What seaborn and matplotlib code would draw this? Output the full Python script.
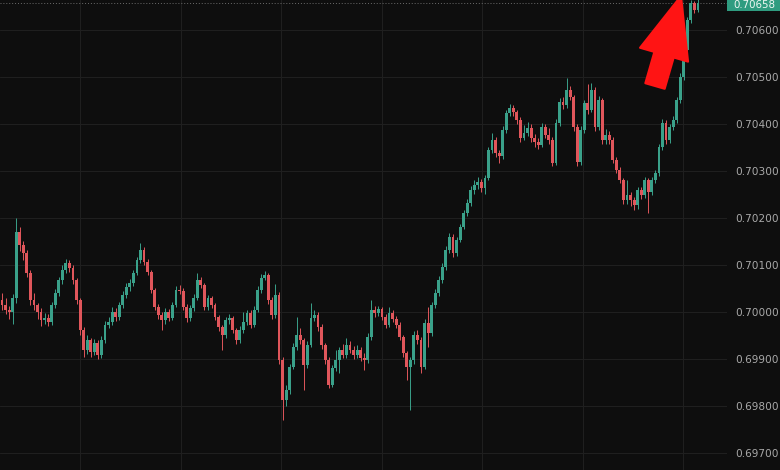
# AUD/NZD style intraday candles, dark theme
import numpy as np
import matplotlib
matplotlib.use('Agg')
import matplotlib.pyplot as plt
import matplotlib.patches as mpatches
import seaborn as sns

# ---- data ----
first_open = 0.70026

closes = [
    # first swing
    0.70015, 0.70004, 0.70000, 0.70030, 0.70170, 0.70143, 0.70126, 0.70083, 0.70026, 0.70015,
    0.70000, 0.69983, 0.69987, 0.69979, 0.70015, 0.70040, 0.70068, 0.70089, 0.70104, 0.70094,
    0.70068, 0.70026, 0.69962, 0.69919, 0.69940, 0.69915, 0.69934, 0.69909, 0.69940, 0.69972,
    0.69979, 0.70000, 0.69989, 0.70015, 0.70036, 0.70053,
    # second swing
    0.70062, 0.70083, 0.70111, 0.70132, 0.70106, 0.70085, 0.70047, 0.70011, 0.69994, 0.69983,
    0.70000, 0.69987, 0.70015, 0.70047, 0.70045, 0.70011, 0.69987, 0.70009, 0.70030, 0.70068,
    0.70057, 0.70011, 0.70030, 0.70015, 0.69989, 0.69968, 0.69951, 0.69983, 0.69987, 0.69962,
    0.69940,
    # drop to the lows
    0.69962, 0.69979, 0.69998, 0.69972, 0.70004, 0.70047, 0.70072, 0.70079, 0.70026, 0.69994,
    0.70036, 0.69898, 0.69813, 0.69834, 0.69883, 0.69926, 0.69951, 0.69940, 0.69887, 0.69930,
    0.69987, 0.69994, 0.69968, 0.69930, 0.69898, 0.69845, 0.69881, 0.69898, 0.69919, 0.69909,
    0.69930, 0.69919, 0.69909, 0.69919, 0.69902,
    # base and breakout
    0.69898, 0.69947, 0.70004, 0.69998, 0.70006, 0.69989, 0.69972, 0.69998, 0.69985, 0.69972,
    0.69947, 0.69913, 0.69883, 0.69898, 0.69951, 0.69940, 0.69883, 0.69977, 0.69955, 0.70015,
    0.70040, 0.70068, 0.70096, 0.70132, 0.70160, 0.70126, 0.70153, 0.70181, 0.70211, 0.70232,
    0.70260, 0.70270, 0.70277, 0.70264,
    # top range
    0.70285, 0.70345, 0.70366, 0.70338, 0.70332, 0.70387, 0.70423, 0.70434, 0.70425, 0.70409,
    0.70370, 0.70381, 0.70392, 0.70370, 0.70362, 0.70355, 0.70394, 0.70377, 0.70366, 0.70317,
    0.70402, 0.70447, 0.70440, 0.70472, 0.70457, 0.70394, 0.70319, 0.70387, 0.70445, 0.70430,
    0.70472, 0.70394,
    # pullback and rally
    0.70451, 0.70366, 0.70377, 0.70366, 0.70323, 0.70302, 0.70281, 0.70238, 0.70249, 0.70238,
    0.70228, 0.70260, 0.70249, 0.70281, 0.70255, 0.70281, 0.70296, 0.70351, 0.70402, 0.70366,
    0.70394, 0.70409, 0.70451, 0.70500, 0.70557, 0.70621, 0.70657, 0.70643, 0.70658,
]

highs = [
    0.70040, 0.70030, 0.70012, 0.70038, 0.70200, 0.70180, 0.70150, 0.70132, 0.70090, 0.70040,
    0.70020, 0.70008, 0.69998, 0.69995, 0.70022, 0.70048, 0.70075, 0.70100, 0.70112, 0.70110,
    0.70100, 0.70072, 0.70030, 0.69968, 0.69950, 0.69945, 0.69942, 0.69940, 0.69948, 0.69980,
    0.69990, 0.70010, 0.70008, 0.70022, 0.70045, 0.70062,
    0.70070, 0.70090, 0.70118, 0.70146, 0.70138, 0.70112, 0.70090, 0.70052, 0.70016, 0.70000,
    0.70008, 0.70006, 0.70022, 0.70055, 0.70058, 0.70050, 0.70016, 0.70015, 0.70038, 0.70083,
    0.70075, 0.70062, 0.70036, 0.70034, 0.70020, 0.69994, 0.69972, 0.69990, 0.69996, 0.69992,
    0.69966,
    0.69970, 0.70000, 0.70005, 0.70004, 0.70012, 0.70055, 0.70080, 0.70088, 0.70084, 0.70032,
    0.70060, 0.70042, 0.69905, 0.69845, 0.69890, 0.69935, 0.69990, 0.69965, 0.69945, 0.69938,
    0.70020, 0.70004, 0.70000, 0.69974, 0.69935, 0.69905, 0.69888, 0.69920, 0.69926, 0.69932,
    0.69945, 0.69938, 0.69928, 0.69930, 0.69926,
    0.69912, 0.69955, 0.70025, 0.70012, 0.70012, 0.70010, 0.69995, 0.70010, 0.70004, 0.69992,
    0.69978, 0.69952, 0.69918, 0.69905, 0.69960, 0.69962, 0.69946, 0.69985, 0.70010, 0.70022,
    0.70048, 0.70076, 0.70104, 0.70140, 0.70168, 0.70165, 0.70160, 0.70188, 0.70218, 0.70240,
    0.70268, 0.70280, 0.70288, 0.70284,
    0.70292, 0.70352, 0.70380, 0.70372, 0.70345, 0.70395, 0.70430, 0.70442, 0.70440, 0.70430,
    0.70414, 0.70398, 0.70405, 0.70400, 0.70378, 0.70370, 0.70402, 0.70400, 0.70392, 0.70372,
    0.70410, 0.70455, 0.70458, 0.70498, 0.70480, 0.70462, 0.70400, 0.70395, 0.70452, 0.70485,
    0.70488, 0.70478,
    0.70460, 0.70456, 0.70390, 0.70385, 0.70372, 0.70330, 0.70308, 0.70286, 0.70280, 0.70256,
    0.70245, 0.70266, 0.70266, 0.70288, 0.70286, 0.70288, 0.70302, 0.70358, 0.70410, 0.70408,
    0.70400, 0.70416, 0.70458, 0.70508, 0.70565, 0.70628, 0.70664, 0.70662, 0.70666,
]

lows = [
    0.70005, 0.69995, 0.69985, 0.69975, 0.70020, 0.70130, 0.70110, 0.70075, 0.70015, 0.70005,
    0.69985, 0.69970, 0.69975, 0.69970, 0.69972, 0.70008, 0.70035, 0.70060, 0.70082, 0.70085,
    0.70060, 0.70018, 0.69950, 0.69904, 0.69910, 0.69905, 0.69908, 0.69900, 0.69902, 0.69935,
    0.69965, 0.69972, 0.69980, 0.69982, 0.70008, 0.70030,
    0.70045, 0.70055, 0.70078, 0.70105, 0.70100, 0.70078, 0.70040, 0.70004, 0.69985, 0.69962,
    0.69975, 0.69980, 0.69982, 0.70010, 0.70038, 0.70004, 0.69978, 0.69980, 0.70002, 0.70025,
    0.70050, 0.70004, 0.70005, 0.70008, 0.69982, 0.69960, 0.69920, 0.69945, 0.69975, 0.69955,
    0.69932,
    0.69935, 0.69956, 0.69972, 0.69965, 0.69968, 0.70000, 0.70040, 0.70068, 0.70018, 0.69985,
    0.69988, 0.69890, 0.69770, 0.69800, 0.69825, 0.69878, 0.69920, 0.69932, 0.69834, 0.69880,
    0.69925, 0.69980, 0.69960, 0.69922, 0.69890, 0.69838, 0.69840, 0.69875, 0.69870, 0.69902,
    0.69902, 0.69912, 0.69900, 0.69902, 0.69895,
    0.69876, 0.69892, 0.69940, 0.69990, 0.69992, 0.69982, 0.69965, 0.69968, 0.69978, 0.69965,
    0.69940, 0.69905, 0.69855, 0.69791, 0.69890, 0.69932, 0.69870, 0.69878, 0.69925, 0.69948,
    0.70008, 0.70035, 0.70062, 0.70090, 0.70125, 0.70118, 0.70120, 0.70148, 0.70176, 0.70205,
    0.70226, 0.70252, 0.70262, 0.70256,
    0.70250, 0.70280, 0.70338, 0.70330, 0.70318, 0.70326, 0.70380, 0.70418, 0.70418, 0.70400,
    0.70362, 0.70365, 0.70374, 0.70362, 0.70352, 0.70347, 0.70350, 0.70370, 0.70358, 0.70310,
    0.70312, 0.70396, 0.70432, 0.70435, 0.70450, 0.70386, 0.70310, 0.70312, 0.70380, 0.70422,
    0.70425, 0.70386,
    0.70388, 0.70358, 0.70358, 0.70358, 0.70316, 0.70295, 0.70274, 0.70230, 0.70230, 0.70225,
    0.70218, 0.70220, 0.70240, 0.70242, 0.70211, 0.70248, 0.70274, 0.70290, 0.70345, 0.70358,
    0.70360, 0.70388, 0.70402, 0.70445, 0.70494, 0.70550, 0.70615, 0.70636, 0.70638,
]

price_ticks = [0.69700, 0.69800, 0.69900, 0.70000, 0.70100, 0.70200,
               0.70300, 0.70400, 0.70500, 0.70600]

# ---- style ----
bg = '#0e0e0e'
up_col = '#3aa18a'
down_col = '#e0565b'
grid_col = '#1f1f1f'
label_col = '#a9a9a9'

sns.set_theme(style='dark', rc={
    'figure.facecolor': bg,
    'axes.facecolor': bg,
    'axes.edgecolor': bg,
    'grid.color': grid_col,
})
plt.rcParams['font.family'] = ['DejaVu Sans']

closes = np.array(closes)
highs = np.array(highs)
lows = np.array(lows)
opens = np.concatenate([[first_open], closes[:-1]])
n = len(closes)
idx = np.arange(n)
rising = closes >= opens
colors = np.where(rising, up_col, down_col)

fig = plt.figure(figsize=(7.8, 4.7), dpi=100)
ax = fig.add_axes([0, 0, 727 / 780, 1])

# wicks then bodies
ax.vlines(idx, lows, highs, colors=colors, linewidth=0.7, zorder=2)
body_h = np.maximum(np.abs(closes - opens), 0.00002)
body_bottom = np.minimum(opens, closes)
ax.bar(idx, body_h, bottom=body_bottom, width=0.8, color=colors,
       linewidth=0, zorder=3)

# axes geometry: candle 0 sits ~2px in, last candle ~30px before the scale
step = 696 / (n - 1)
ax.set_xlim(-2 / step, 725 / step)
ax.set_ylim(0.696638, 0.706638)

ax.set_xticks(np.arange(22, n, 28.3))
ax.set_xticklabels([])
ax.tick_params(axis='x', length=0)
ax.set_yticks(price_ticks)
ax.yaxis.tick_right()
ax.set_yticklabels([f'{p:.5f}' for p in price_ticks])
ax.tick_params(axis='y', length=0, pad=6, labelsize=7.6, labelcolor=label_col)
ax.grid(True, color=grid_col, linewidth=0.8)
for s in ax.spines.values():
    s.set_visible(False)

# last price line + tag in the scale area
last = closes[-1]
ax.axhline(last, color='#6b6b6b', linestyle=(0, (1, 2)), linewidth=0.7, zorder=1)
fig.patches.append(mpatches.Rectangle((727 / 780, 1 - 11 / 470), 53 / 780, 11 / 470,
                                      transform=fig.transFigure, facecolor='#2f9c80',
                                      edgecolor='none', zorder=5))
fig.text(733 / 780, 1 - 5.5 / 470, f'{last:.5f}', ha='left', va='center',
         fontsize=7.4, color='#eef7f3', zorder=6)

# red arrow drawn on the picture
ax.annotate('', xy=(681 / 727, 1 + 4 / 470), xytext=(655 / 727, 1 - 86 / 470),
            xycoords='axes fraction', textcoords='axes fraction',
            annotation_clip=False,
            arrowprops=dict(arrowstyle='simple,head_length=4.4,head_width=3.6,tail_width=1.45',
                            mutation_scale=10, color='#ff1414', shrinkA=0, shrinkB=0,
                            joinstyle='round', linewidth=1.5))

plt.savefig('out.png', dpi=100, facecolor=bg)
